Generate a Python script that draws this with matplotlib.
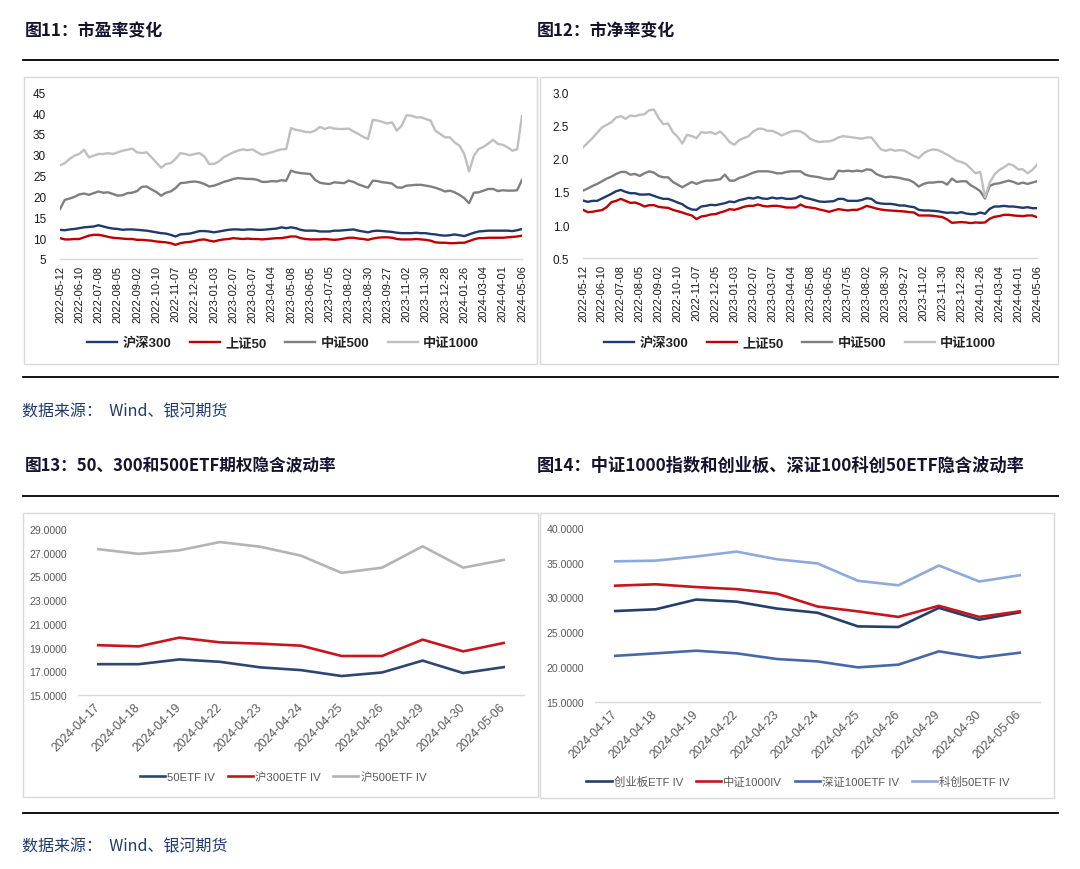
import numpy as np
import matplotlib
matplotlib.use("Agg")
import matplotlib.pyplot as plt
from matplotlib import font_manager
from matplotlib.lines import Line2D
import matplotlib.patches as patches

# ---------------- data ----------------
pe_dates = ['2022-05-12','2022-06-10','2022-07-08','2022-08-05','2022-09-02','2022-10-10','2022-11-07',
            '2022-12-05','2023-01-03','2023-02-07','2023-03-07','2023-04-04','2023-05-08','2023-06-05',
            '2023-07-05','2023-08-02','2023-08-30','2023-09-27','2023-11-02','2023-11-30','2023-12-28',
            '2024-01-26','2024-03-04','2024-04-01','2024-05-06']
pb_dates = pe_dates

# PE, sampled 4 points per tick interval
pe_hs300 = [12.0, 11.9, 12.1, 12.2, 12.4, 12.6, 12.7, 12.8, 13.1, 12.8, 12.5, 12.3, 12.2, 12.0, 12.1, 12.1,
            12.0, 11.9, 11.8, 11.6, 11.4, 11.2, 11.1, 10.8, 10.4, 10.9, 11.0, 11.1, 11.4, 11.7, 11.7, 11.6,
            11.4, 11.6, 11.8, 12.0, 12.1, 12.1, 12.0, 12.1, 12.1, 12.0, 12.0, 12.1, 12.2, 12.3, 12.6, 12.4, 12.6,
            12.4, 12.0, 11.8, 11.8, 11.8, 11.6, 11.6, 11.6, 11.8, 11.8, 11.9, 12.0, 12.1, 11.8, 11.6, 11.4,
            11.7, 11.8, 11.7, 11.6, 11.5, 11.3, 11.2, 11.2, 11.2, 11.3, 11.2, 11.2, 11.0, 10.9, 10.7, 10.6,
            10.7, 10.9, 10.7, 10.5, 10.9, 11.3, 11.6, 11.7, 11.8, 11.8, 11.8, 11.8, 11.8, 11.7, 11.9, 12.2]
pe_sz50 = [10.0, 9.7, 9.7, 9.8, 9.8, 10.2, 10.6, 10.8, 10.8, 10.6, 10.3, 10.1, 10.0, 9.9, 9.8, 9.8,
           9.6, 9.6, 9.5, 9.4, 9.2, 9.1, 9.0, 8.8, 8.4, 8.8, 9.0, 9.1, 9.3, 9.6, 9.7, 9.4,
           9.2, 9.5, 9.7, 9.8, 10.0, 9.9, 9.8, 9.9, 9.8, 9.8, 9.7, 9.8, 9.9, 10.0, 10.0, 10.2, 10.4,
           10.4, 10.0, 9.8, 9.7, 9.7, 9.7, 9.8, 9.7, 9.6, 9.7, 9.9, 10.1, 10.1, 9.9, 9.8, 9.6,
           9.9, 10.1, 10.2, 10.2, 10.1, 9.8, 9.7, 9.7, 9.7, 9.8, 9.7, 9.6, 9.4, 9.0, 8.9, 8.9,
           8.8, 8.8, 8.9, 8.9, 9.3, 9.7, 10.0, 10.0, 10.1, 10.1, 10.1, 10.1, 10.2, 10.3, 10.4, 10.6]
pe_zz500 = [17.0, 19.2, 19.5, 19.9, 20.5, 20.7, 20.4, 20.8, 21.2, 20.9, 21.0, 20.6, 20.2, 20.3, 20.8, 20.9,
            21.3, 22.3, 22.4, 21.7, 21.1, 20.2, 20.9, 21.2, 22.0, 23.2, 23.3, 23.5, 23.6, 23.4, 23.0, 22.4,
            22.6, 23.0, 23.5, 23.8, 24.2, 24.4, 24.3, 24.2, 24.2, 24.0, 23.5, 23.5, 23.7, 23.6, 23.9, 23.8, 26.2,
            25.8, 25.6, 25.5, 25.4, 24.0, 23.3, 23.1, 23.0, 23.4, 23.3, 23.2, 23.8, 23.5, 22.9, 22.5, 22.1,
            23.8, 23.7, 23.4, 23.3, 23.1, 22.2, 22.1, 22.6, 22.7, 22.8, 22.8, 22.6, 22.4, 22.1, 21.7, 21.2,
            21.4, 21.0, 20.4, 19.6, 18.4, 20.9, 21.0, 21.4, 21.8, 21.8, 21.3, 21.5, 21.4, 21.4, 21.5, 24.0]
pe_zz1000 = [27.5, 28.0, 29.0, 29.8, 30.2, 31.2, 29.4, 29.8, 30.2, 30.2, 30.4, 30.2, 30.6, 31.0, 31.2, 31.5,
             30.6, 30.4, 30.6, 29.4, 28.2, 26.9, 27.8, 28.0, 29.0, 30.4, 30.2, 29.9, 30.2, 30.4, 29.6, 27.8,
             27.8, 28.4, 29.4, 30.0, 30.6, 31.0, 31.3, 31.1, 31.3, 30.6, 30.0, 30.3, 30.6, 31.0, 31.3, 31.4, 36.4,
             36.0, 35.8, 35.5, 35.4, 35.8, 36.7, 36.2, 36.6, 36.3, 36.2, 36.2, 36.3, 35.6, 35.0, 34.3, 33.8,
             38.4, 38.2, 37.9, 37.5, 37.8, 35.8, 37.0, 39.5, 39.4, 39.0, 39.0, 38.6, 38.2, 35.8, 35.0, 34.2,
             34.2, 33.0, 32.2, 30.2, 26.0, 29.8, 31.4, 31.9, 32.7, 33.6, 32.6, 32.4, 31.8, 31.0, 31.3, 39.4]

# PB, sampled 4 points per tick interval
pb_hs300 = [1.37, 1.35, 1.365, 1.365, 1.40, 1.435, 1.47, 1.51, 1.53, 1.50, 1.48, 1.48, 1.46, 1.46, 1.465, 1.44,
            1.415, 1.395, 1.395, 1.37, 1.34, 1.315, 1.265, 1.235, 1.23, 1.28, 1.29, 1.305, 1.30, 1.315, 1.33, 1.355,
            1.345, 1.375, 1.39, 1.41, 1.40, 1.42, 1.40, 1.395, 1.415, 1.40, 1.41, 1.395, 1.395, 1.405, 1.44, 1.41, 1.395,
            1.375, 1.355, 1.35, 1.355, 1.36, 1.395, 1.395, 1.365, 1.365, 1.365, 1.38, 1.405, 1.395, 1.34, 1.325, 1.32,
            1.32, 1.31, 1.295, 1.295, 1.28, 1.27, 1.23, 1.22, 1.22, 1.215, 1.21, 1.195, 1.185, 1.19, 1.18, 1.195,
            1.175, 1.165, 1.165, 1.19, 1.17, 1.245, 1.28, 1.28, 1.29, 1.28, 1.28, 1.27, 1.26, 1.27, 1.255, 1.255]
pb_sz50 = [1.23, 1.195, 1.20, 1.215, 1.225, 1.27, 1.345, 1.365, 1.395, 1.365, 1.335, 1.34, 1.315, 1.28, 1.30, 1.30,
           1.275, 1.265, 1.26, 1.23, 1.21, 1.19, 1.165, 1.145, 1.09, 1.13, 1.14, 1.16, 1.165, 1.19, 1.21, 1.24,
           1.23, 1.25, 1.275, 1.29, 1.29, 1.31, 1.29, 1.28, 1.29, 1.29, 1.28, 1.265, 1.265, 1.265, 1.31, 1.275, 1.265,
           1.255, 1.235, 1.22, 1.20, 1.22, 1.24, 1.23, 1.22, 1.23, 1.23, 1.255, 1.29, 1.27, 1.25, 1.235, 1.225,
           1.22, 1.215, 1.21, 1.205, 1.195, 1.19, 1.145, 1.145, 1.145, 1.14, 1.13, 1.12, 1.085, 1.035, 1.04, 1.045,
           1.04, 1.03, 1.04, 1.035, 1.04, 1.095, 1.125, 1.135, 1.155, 1.155, 1.145, 1.14, 1.135, 1.145, 1.145, 1.12]
pb_zz500 = [1.52, 1.55, 1.59, 1.62, 1.66, 1.70, 1.73, 1.77, 1.80, 1.80, 1.76, 1.77, 1.74, 1.78, 1.81, 1.79,
            1.74, 1.72, 1.72, 1.65, 1.61, 1.57, 1.61, 1.65, 1.62, 1.65, 1.67, 1.67, 1.68, 1.69, 1.76, 1.67,
            1.67, 1.71, 1.73, 1.76, 1.79, 1.81, 1.81, 1.81, 1.80, 1.78, 1.78, 1.80, 1.81, 1.81, 1.81, 1.76, 1.74,
            1.73, 1.72, 1.70, 1.69, 1.70, 1.82, 1.81, 1.82, 1.81, 1.82, 1.81, 1.84, 1.83, 1.77, 1.74, 1.72,
            1.73, 1.72, 1.71, 1.69, 1.68, 1.64, 1.58, 1.62, 1.64, 1.64, 1.65, 1.65, 1.61, 1.70, 1.65, 1.66,
            1.66, 1.60, 1.56, 1.51, 1.40, 1.59, 1.62, 1.63, 1.65, 1.67, 1.65, 1.62, 1.64, 1.62, 1.64, 1.66]
pb_zz1000 = [2.17, 2.24, 2.31, 2.39, 2.47, 2.51, 2.55, 2.62, 2.64, 2.60, 2.65, 2.64, 2.66, 2.67, 2.73, 2.74,
             2.61, 2.52, 2.53, 2.40, 2.33, 2.23, 2.36, 2.34, 2.31, 2.40, 2.39, 2.40, 2.37, 2.41, 2.34, 2.25,
             2.21, 2.28, 2.31, 2.34, 2.41, 2.45, 2.45, 2.42, 2.42, 2.39, 2.35, 2.38, 2.41, 2.42, 2.41, 2.37, 2.30,
             2.27, 2.25, 2.26, 2.26, 2.28, 2.32, 2.34, 2.33, 2.32, 2.31, 2.30, 2.32, 2.32, 2.23, 2.14, 2.12,
             2.14, 2.12, 2.13, 2.12, 2.08, 2.04, 2.01, 2.08, 2.12, 2.14, 2.13, 2.10, 2.06, 2.02, 1.97, 1.95,
             1.92, 1.85, 1.78, 1.80, 1.42, 1.64, 1.76, 1.83, 1.87, 1.92, 1.90, 1.84, 1.84, 1.78, 1.83, 1.91]

iv_dates = ['2024-04-17','2024-04-18','2024-04-19','2024-04-22','2024-04-23','2024-04-24',
            '2024-04-25','2024-04-26','2024-04-29','2024-04-30','2024-05-06']
iv_50etf = [17.6, 17.6, 18.0, 17.8, 17.33, 17.1, 16.6, 16.9, 17.9, 16.85, 17.35]
iv_300etf = [19.2, 19.1, 19.84, 19.44, 19.33, 19.16, 18.29, 18.29, 19.67, 18.68, 19.39]
iv_500etf = [27.3, 26.9, 27.2, 27.9, 27.5, 26.75, 25.3, 25.74, 27.54, 25.74, 26.39]

iv_cyb = [28.05, 28.3, 29.7, 29.4, 28.4, 27.8, 25.84, 25.75, 28.5, 26.8, 27.86]
iv_zz1000 = [31.7, 31.9, 31.5, 31.2, 30.55, 28.7, 28.0, 27.2, 28.8, 27.2, 28.0]
iv_sz100 = [21.6, 21.96, 22.34, 21.96, 21.14, 20.8, 19.94, 20.33, 22.25, 21.33, 22.05]
iv_kc50 = [35.2, 35.3, 35.9, 36.6, 35.5, 34.9, 32.4, 31.75, 34.6, 32.3, 33.2]

# ---------------- fonts ----------------
avail = {f.name for f in font_manager.fontManager.ttflist}
CJK = 'Noto Sans CJK SC'
LAT = 'Liberation Sans' if 'Liberation Sans' in avail else 'DejaVu Sans'
NARROW = 'Liberation Sans Narrow' if 'Liberation Sans Narrow' in avail else None
top_fam = [LAT, CJK]
bot_fam = [NARROW, CJK] if NARROW else [LAT, CJK]
bot_tick_size = 9 if NARROW else 7.6
bot_xtick_size = 10 if NARROW else 8.8
bot_leg_size = 9.5 if NARROW else 8.2

W, H = 1080, 870
fig = plt.figure(figsize=(W / 100, H / 100), dpi=100)
fig.patch.set_facecolor('white')


def rect(x0, y0, x1, y1):
    return [x0 / W, 1 - y1 / H, (x1 - x0) / W, (y1 - y0) / H]


def fx(x):
    return x / W


def fy(y):
    return 1 - y / H


# frames and separator lines
for (x0, y0, x1, y1) in [(24, 78, 537, 365), (540, 78, 1058, 365), (23, 514, 538, 798), (540, 514, 1054, 799)]:
    fig.add_artist(patches.Rectangle((fx(x0), fy(y1)), (x1 - x0) / W, (y1 - y0) / H,
                                     transform=fig.transFigure, fill=False, ec='#D9D9D9', lw=1.0))
for y in [61, 378, 497, 814]:
    fig.add_artist(Line2D([fx(23), fx(1058)], [fy(y), fy(y)], transform=fig.transFigure,
                          color='black', lw=1.3))

title_kw = dict(family=[CJK], weight='bold', color='#14142e', va='center', ha='left')
fig.text(fx(25), fy(31), '图11：市盈率变化', fontsize=12.2, **title_kw)
fig.text(fx(537), fy(31), '图12：市净率变化', fontsize=12.2, **title_kw)
fig.text(fx(25), fy(466), '图13：50、300和500ETF期权隐含波动率', fontsize=12.0, **title_kw)
fig.text(fx(537), fy(466), '图14：中证1000指数和创业板、深证100科创50ETF隐含波动率', fontsize=12.4, **title_kw)
src_kw = dict(family=[CJK], fontsize=11.5, color='#1F3A6E', va='center', ha='left')
fig.text(fx(22), fy(412), '数据来源：  Wind、银河期货', **src_kw)
fig.text(fx(22), fy(847), '数据来源：  Wind、银河期货', **src_kw)


def style_axes(ax):
    for s in ['top', 'right', 'left']:
        ax.spines[s].set_visible(False)
    ax.spines['bottom'].set_color('#D9D9D9')
    ax.spines['bottom'].set_linewidth(1.0)
    ax.tick_params(length=0)
    ax.set_facecolor('none')


# ---------------- top charts ----------------
def top_chart(r, dates, series, names, colors, ylim, yticks, fmt, leg_center):
    ax = fig.add_axes(r)
    n = len(series[0])
    x = np.arange(n) / ((n - 1) / (len(dates) - 1))
    for s, c, nm in zip(series, colors, names):
        ax.plot(x, s, color=c, lw=1.7, label=nm, solid_joinstyle='round')
    ax.set_xlim(0, len(dates) - 1)
    ax.set_ylim(*ylim)
    ax.set_yticks(yticks)
    ax.set_yticklabels([fmt % v for v in yticks], family=top_fam, fontsize=8.5, color='#1a1a1a')
    ax.set_xticks(range(len(dates)))
    ax.set_xticklabels(dates, rotation=90, family=top_fam, fontsize=8, color='#1a1a1a', va='top', ha='center')
    ax.tick_params(axis='x', pad=4)
    ax.tick_params(axis='y', pad=10)
    style_axes(ax)
    h, l = ax.get_legend_handles_labels()
    fig.legend(h, l, loc='center', bbox_to_anchor=(fx(leg_center[0]), fy(leg_center[1])), ncol=4,
               frameon=False, handlelength=2.3, handletextpad=0.4, columnspacing=1.4,
               prop=dict(family=top_fam, size=9.5, weight='bold'), labelcolor='#222222')
    return ax


top_colors = ['#1F3A6E', '#C00000', '#7F7F7F', '#BFBFBF']
top_names = ['沪深300', '上证50', '中证500', '中证1000']
top_chart(rect(60, 93.3, 522, 260), pe_dates, [pe_hs300, pe_sz50, pe_zz500, pe_zz1000], top_names, top_colors,
          (5, 45), list(range(5, 46, 5)), '%d', (283, 344))
top_chart(rect(583, 93.3, 1037, 259.3), pb_dates, [pb_hs300, pb_sz50, pb_zz500, pb_zz1000], top_names, top_colors,
          (0.5, 3.0), [0.5, 1.0, 1.5, 2.0, 2.5, 3.0], '%.1f', (800, 344))


# ---------------- bottom charts ----------------
def bot_chart(r, dates, series, names, colors, ylim, yticks, leg_center):
    ax = fig.add_axes(r)
    x = np.arange(len(dates))
    for s, c, nm in zip(series, colors, names):
        ax.plot(x, s, color=c, lw=1.9, label=nm, solid_joinstyle='round')
    ax.set_xlim(-0.5, len(dates) - 0.5)
    ax.set_ylim(*ylim)
    ax.set_yticks(yticks)
    ax.set_yticklabels(['%.4f' % v for v in yticks], family=bot_fam, fontsize=bot_tick_size, color='#595959')
    ax.set_xticks(x)
    ax.set_xticklabels(dates, rotation=45, ha='right', va='center', rotation_mode='anchor',
                       family=bot_fam, fontsize=bot_xtick_size, color='#595959')
    ax.tick_params(axis='x', pad=7)
    ax.tick_params(axis='y', pad=8)
    style_axes(ax)
    h, l = ax.get_legend_handles_labels()
    fig.legend(h, l, loc='center', bbox_to_anchor=(fx(leg_center[0]), fy(leg_center[1])), ncol=len(names),
               frameon=False, handlelength=2.2, handletextpad=0.2, columnspacing=1.1,
               prop=dict(family=bot_fam, size=bot_leg_size), labelcolor='#595959')
    return ax


bot_chart(rect(78, 530, 524, 696), iv_dates, [iv_50etf, iv_300etf, iv_500etf],
          ['50ETF IV', '沪300ETF IV', '沪500ETF IV'], ['#2E4672', '#C8141E', '#B4B4B4'],
          (15, 29), list(range(15, 30, 2)), (283, 778))
bot_chart(rect(595, 529, 1040, 702.7), iv_dates, [iv_cyb, iv_zz1000, iv_sz100, iv_kc50],
          ['创业板ETF IV', '中证1000IV', '深证100ETF IV', '科创50ETF IV'],
          ['#263F6A', '#C8141E', '#4667A8', '#8EA9DB'],
          (15, 40), list(range(15, 41, 5)), (798, 782))

fig.savefig('out.png', dpi=100, facecolor='white')
